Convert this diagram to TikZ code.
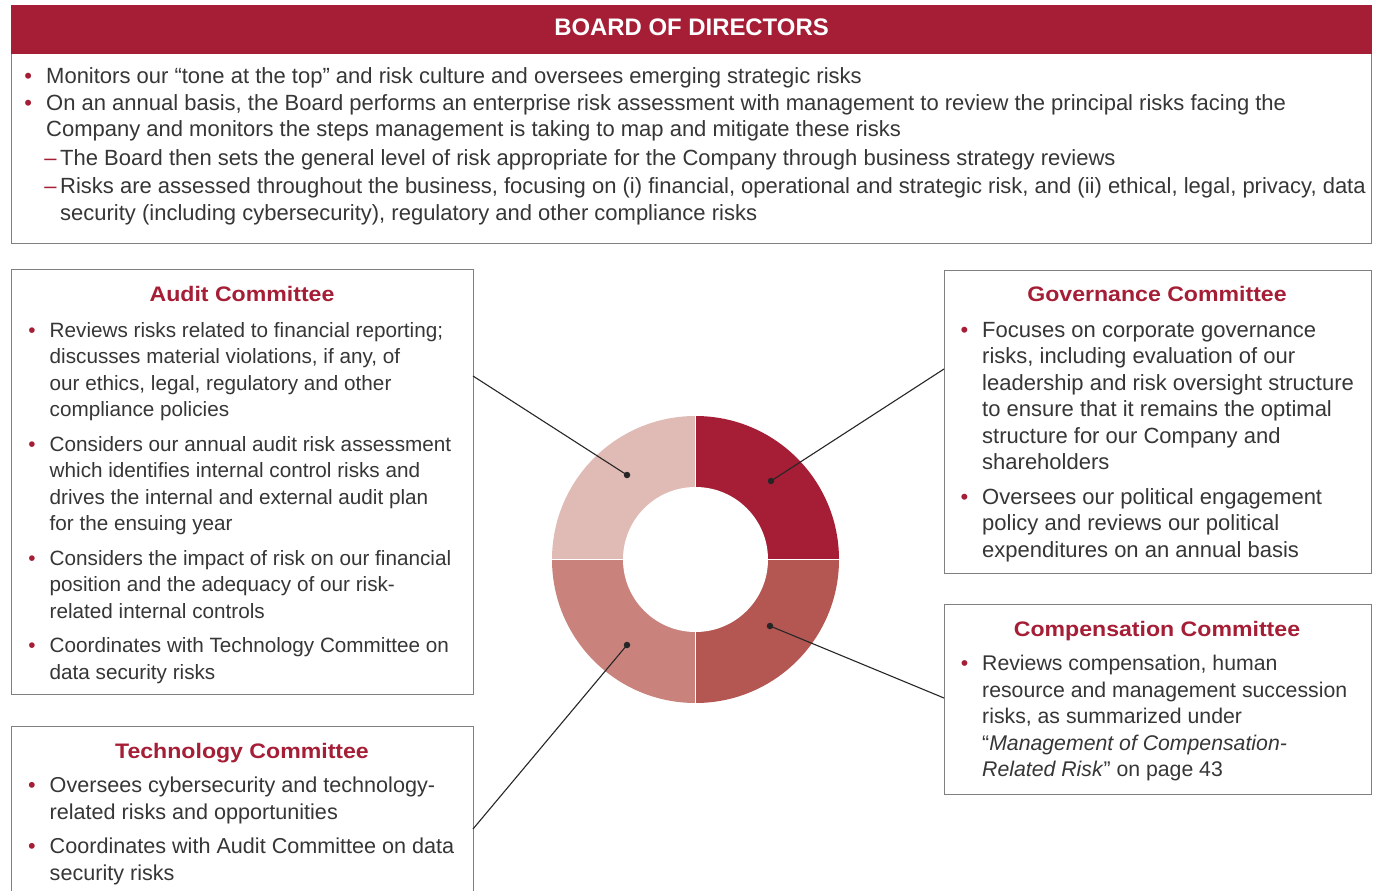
\documentclass[tikz,border=0pt]{standalone}
\usepackage{fontspec}
\setmainfont{Liberation Sans}
\newfontfamily\ttlfont{Liberation Sans}[FakeStretch=1.1]
\definecolor{ared}{HTML}{A51E36}
\definecolor{tgray}{HTML}{363636}
\definecolor{bgray}{HTML}{808080}
\definecolor{qa}{HTML}{A51E36}
\definecolor{qb}{HTML}{E0BAB4}
\definecolor{qc}{HTML}{C9837C}
\definecolor{qd}{HTML}{B45753}
\newcommand{\bul}{\noindent\llap{\textcolor{ared}{•}\hspace{14pt}}}
\newcommand{\dsh}{\noindent\llap{\textcolor{ared}{–}\hspace{3.5pt}}}
\newcommand{\bodyfont}[1]{\fontsize{#1}{26.5}\selectfont}
\newcommand{\gap}{\par\vspace{8pt}}
\begin{document}
\begin{tikzpicture}[x=1pt,y=-1pt,
  box/.style={draw=bgray, line width=1.2pt, fill=white, inner sep=0pt, anchor=north west},
  txt/.style={anchor=base west, inner sep=0pt, text=tgray},
  ttl/.style={anchor=base, inner sep=0pt, text=ared, font=\ttlfont\bfseries\fontsize{21}{21}\selectfont},
  dot/.style={circle, fill=black!85, inner sep=0pt, minimum size=6.5pt},
  conn/.style={draw=black!85, line width=1.1pt}]
\clip (0,0) rectangle (1376,891);
\fill[white] (0,0) rectangle (1376,891);

% Board of directors
\node[box, minimum width=1360pt, minimum height=190pt] (board) at (11,53) {};
\node[box, draw=ared, fill=ared, minimum width=1360pt, minimum height=48pt] (boardhead) at (11,5) {};
\node[anchor=base, inner sep=0pt, text=white, font=\bfseries\fontsize{23.9}{24}\selectfont] (boardtitle) at (691.5,36) {BOARD OF DIRECTORS};
\node[txt] (boardtxt) at (46,83.3) {\begin{minipage}[t]{1400pt}\fontsize{22}{26.8}\selectfont
\bul Monitors our “tone at the top” and risk culture and oversees emerging strategic risks\par
\bul On an annual basis, the Board performs an enterprise risk assessment with management to review the principal risks facing the\\
Company and monitors the steps management is taking to map and mitigate these risks\par\vspace{1.5pt}
\leftskip=14pt
\dsh The Board then sets the general level of risk appropriate for the Company through business strategy reviews\par\vspace{1.5pt}
\dsh Risks are assessed throughout the business, focusing on (i) financial, operational and strategic risk, and (ii) ethical, legal, privacy, data\\
security (including cybersecurity), regulatory and other compliance risks\par
\end{minipage}};

% Audit committee
\node[box, minimum width=462pt, minimum height=425pt] (audit) at (11,269) {};
\node[ttl] (audittitle) at (242,301.7) {Audit Committee};
\node[txt] (audittxt) at (49.5,337.3) {\begin{minipage}[t]{600pt}\bodyfont{20.7}
\bul Reviews risks related to financial reporting;\\
discusses material violations, if any, of\\
our ethics, legal, regulatory and other\\
compliance policies\gap
\bul Considers our annual audit risk assessment\\
which identifies internal control risks and\\
drives the internal and external audit plan\\
for the ensuing year\gap
\bul Considers the impact of risk on our financial\\
position and the adequacy of our risk-\\
related internal controls\gap
\bul Coordinates with Technology Committee on\\
data security risks\par
\end{minipage}};

% Technology committee
\node[box, minimum width=462pt, minimum height=170pt] (tech) at (11,726) {};
\node[ttl] (techtitle) at (242,758.3) {Technology Committee};
\node[txt] (techtxt) at (49.5,792.7) {\begin{minipage}[t]{600pt}\bodyfont{21.6}
\bul Oversees cybersecurity and technology-\\
related risks and opportunities\gap
\bul Coordinates with Audit Committee on data\\
security risks\par
\end{minipage}};

% Governance committee
\node[box, minimum width=427pt, minimum height=303pt] (gov) at (944,270) {};
\node[ttl] (govtitle) at (1157,301.7) {Governance Committee};
\node[txt] (govtxt) at (982,337.3) {\begin{minipage}[t]{600pt}\bodyfont{22}
\bul Focuses on corporate governance\\
risks, including evaluation of our\\
leadership and risk oversight structure\\
to ensure that it remains the optimal\\
structure for our Company and\\
shareholders\gap
\bul Oversees our political engagement\\
policy and reviews our political\\
expenditures on an annual basis\par
\end{minipage}};

% Compensation committee
\node[box, minimum width=427pt, minimum height=190pt] (comp) at (944,604) {};
\node[ttl] (comptitle) at (1157,636.7) {Compensation Committee};
\node[txt] (comptxt) at (982,670.5) {\begin{minipage}[t]{600pt}\bodyfont{21.25}
\bul Reviews compensation, human\\
resource and management succession\\
risks, as summarized under\\
“\textit{Management of Compensation-}\\
\textit{Related Risk}” on page 43\par
\end{minipage}};

% Donut
\coordinate (C) at (695.5,559.5);
\fill[qa] (C) -- ++(0:143.5pt) arc[start angle=0, end angle=90, radius=143.5pt] -- cycle;
\fill[qb] (C) -- ++(90:143.5pt) arc[start angle=90, end angle=180, radius=143.5pt] -- cycle;
\fill[qc] (C) -- ++(180:143.5pt) arc[start angle=180, end angle=270, radius=143.5pt] -- cycle;
\fill[qd] (C) -- ++(270:143.5pt) arc[start angle=270, end angle=360, radius=143.5pt] -- cycle;
\draw[white, line width=1.3pt] (C) ++(-144pt,0pt) -- ++(288pt,0pt);
\draw[white, line width=1.3pt] (C) ++(0pt,-144pt) -- ++(0pt,288pt);
\fill[white] (C) circle[radius=72.5pt];

% Dots and connectors
\node[dot] (dA) at (627,475) {};
\node[dot] (dG) at (771,481) {};
\node[dot] (dC) at (770,626) {};
\node[dot] (dT) at (627,645) {};
\coordinate (eA) at (473,376);
\coordinate (eG) at (944,369);
\coordinate (eC) at (944,698);
\coordinate (eT) at (473,829);
\draw[conn] (dA.center) -- (eA);
\draw[conn] (dG.center) -- (eG);
\draw[conn] (dC.center) -- (eC);
\draw[conn] (dT.center) -- (eT);
\end{tikzpicture}
\end{document}
